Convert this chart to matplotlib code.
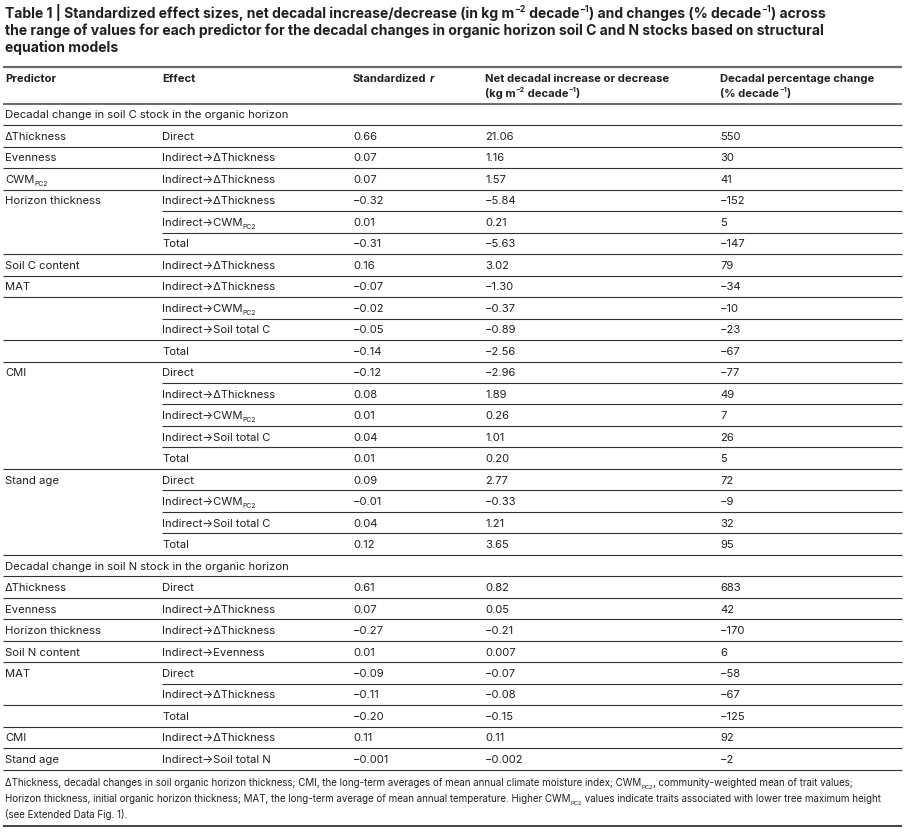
import re
import matplotlib
matplotlib.use("Agg")
from matplotlib import pyplot as plt
from matplotlib.font_manager import FontProperties

# ---- table data ----
title_lines = [
    "Table 1 | Standardized effect sizes, net decadal increase/decrease (in kg m^{−2} decade^{−1}) and changes (% decade^{−1}) across",
    "the range of values for each predictor for the decadal changes in organic horizon soil C and N stocks based on structural",
    "equation models",
]
col_heads = ["Predictor", "Effect", "Standardized", "Net decadal increase or decrease", "Decadal percentage change"]
col_heads2 = ["", "", "", "(kg m^{−2} decade^{−1})", "(% decade^{−1})"]

section_c = "Decadal change in soil C stock in the organic horizon"
pred_c = ["ΔThickness", "Evenness", "CWM_{PC2}", "Horizon thickness", "", "", "Soil C content",
          "MAT", "", "", "", "CMI", "", "", "", "", "Stand age", "", "", ""]
effect_c = ["Direct", "Indirect→ΔThickness", "Indirect→ΔThickness", "Indirect→ΔThickness",
            "Indirect→CWM_{PC2}", "Total", "Indirect→ΔThickness", "Indirect→ΔThickness",
            "Indirect→CWM_{PC2}", "Indirect→Soil total C", "Total", "Direct", "Indirect→ΔThickness",
            "Indirect→CWM_{PC2}", "Indirect→Soil total C", "Total", "Direct", "Indirect→CWM_{PC2}",
            "Indirect→Soil total C", "Total"]
r_c = ["0.66", "0.07", "0.07", "−0.32", "0.01", "−0.31", "0.16", "−0.07", "−0.02", "−0.05", "−0.14",
       "−0.12", "0.08", "0.01", "0.04", "0.01", "0.09", "−0.01", "0.04", "0.12"]
net_c = ["21.06", "1.16", "1.57", "−5.84", "0.21", "−5.63", "3.02", "−1.30", "−0.37", "−0.89", "−2.56",
         "−2.96", "1.89", "0.26", "1.01", "0.20", "2.77", "−0.33", "1.21", "3.65"]
pct_c = ["550", "30", "41", "−152", "5", "−147", "79", "−34", "−10", "−23", "−67",
         "−77", "49", "7", "26", "5", "72", "−9", "32", "95"]

section_n = "Decadal change in soil N stock in the organic horizon"
pred_n = ["ΔThickness", "Evenness", "Horizon thickness", "Soil N content", "MAT", "", "", "CMI", "Stand age"]
effect_n = ["Direct", "Indirect→ΔThickness", "Indirect→ΔThickness", "Indirect→Evenness", "Direct",
            "Indirect→ΔThickness", "Total", "Indirect→ΔThickness", "Indirect→Soil total N"]
r_n = ["0.61", "0.07", "−0.27", "0.01", "−0.09", "−0.11", "−0.20", "0.11", "−0.001"]
net_n = ["0.82", "0.05", "−0.21", "0.007", "−0.07", "−0.08", "−0.15", "0.11", "−0.002"]
pct_n = ["683", "42", "−170", "6", "−58", "−67", "−125", "92", "−2"]

footnote = [
    "ΔThickness, decadal changes in soil organic horizon thickness; CMI, the long-term averages of mean annual climate moisture index; CWM_{PC2}, community-weighted mean of trait values;",
    "Horizon thickness, initial organic horizon thickness; MAT, the long-term average of mean annual temperature. Higher CWM_{PC2} values indicate traits associated with lower tree maximum height",
    "(see Extended Data Fig. 1).",
]

# ---- layout ----
INK = "#231f20"
RULE = "#333333"
FAM = ["Inter", "DejaVu Sans"]
col_x = [5, 162, 353, 485, 720]
row_h = 21.48
y0 = 114.5

fig = plt.figure(figsize=(9.05, 8.32), dpi=100)
ax = fig.add_axes([0, 0, 1, 1])
ax.set_xlim(0, 905)
ax.set_ylim(832, 0)
ax.axis("off")
rend = fig.canvas.get_renderer()


def adv(s, fp):
    w1 = rend.get_text_width_height_descent(s + ".", fp, ismath=False)[0]
    w2 = rend.get_text_width_height_descent(".", fp, ismath=False)[0]
    return w1 - w2


def rich(x, y, s, size, weight="normal", style="normal", color=INK):
    # simple markup: _{..} subscript, ^{..} superscript
    px = size * 100 / 72
    for seg in re.split(r"(_\{[^}]*\}|\^\{[^}]*\})", s):
        if not seg:
            continue
        dy, fs = 0, size
        if seg.startswith("_{"):
            seg, dy, fs = seg[2:-1], px * 0.28, size * 0.6
        elif seg.startswith("^{"):
            seg, dy, fs = seg[2:-1], -px * 0.42, size * 0.62
        fp = FontProperties(family=FAM, size=fs, weight=weight, style=style)
        ax.text(x, y + dy, seg, fontproperties=fp, color=color, va="baseline", ha="left")
        x += adv(seg, fp)
    return x


def hline(y, x0=3, x1=902, lw=0.8, color=RULE):
    ax.plot([x0, x1], [y, y], color=color, lw=lw, solid_capstyle="butt")


# title
for i, line in enumerate(title_lines):
    rich(5, 18 + i * 17, line, 10.05, weight="bold")

# header
hline(67, lw=1.6, color="#6a6a6a")
for k, h in enumerate(col_heads):
    xe = rich(col_x[k], 82, h, 8.05, weight="bold")
    if k == 2:
        rich(xe + 3, 82, "r", 8.05, weight="bold", style="italic")
    if col_heads2[k]:
        rich(col_x[k], 97, col_heads2[k], 8.05, weight="bold")
hline(104, lw=1.4, color="#6a6a6a")

# body
sections = [
    (section_c, pred_c, effect_c, r_c, net_c, pct_c, {7, 9}),
    (section_n, pred_n, effect_n, r_n, net_n, pct_n, {5}),
]
yc = y0
for label, preds, effs, rs, nets, pcts, full_extra in sections:
    rich(col_x[0], yc + 4, label, 8.1)
    hline(yc + row_h / 2)
    for i in range(len(preds)):
        yc += row_h
        cells = [preds[i], effs[i], rs[i], nets[i], pcts[i]]
        for k, c in enumerate(cells):
            if c:
                rich(col_x[k], yc + 4, c, 8.1)
        last = i == len(preds) - 1
        full = last or preds[i + 1] != "" or i in full_extra
        hline(yc + row_h / 2, x0=3 if full else col_x[1])
    yc += row_h

# footnote
for i, line in enumerate(footnote):
    rich(5, 786 + i * 16.2, line, 7.0)
hline(826, lw=1.2, color="#222222")

fig.savefig("out.png", dpi=100)
